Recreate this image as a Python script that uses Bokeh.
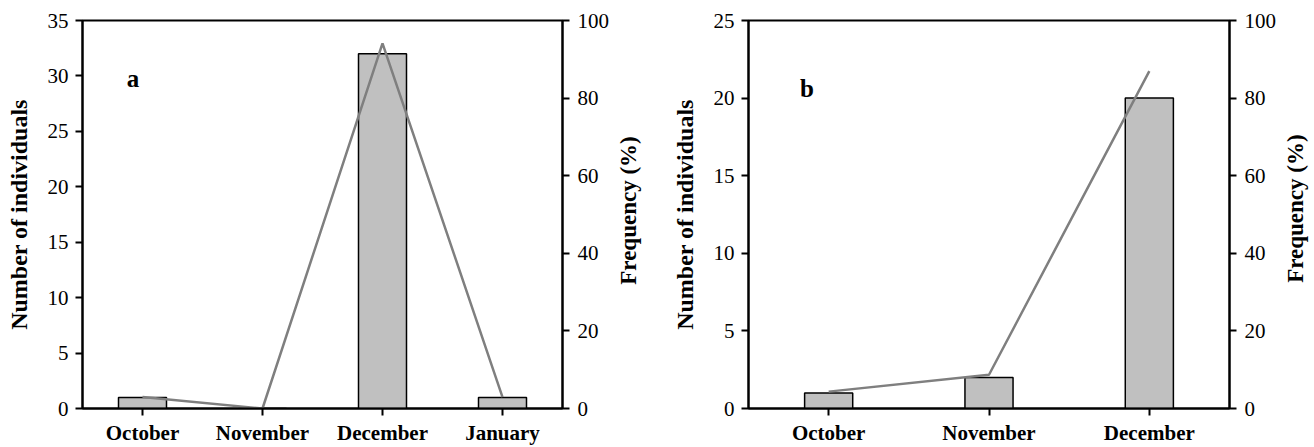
import math
from bokeh.plotting import figure
from bokeh.models import Range1d, LinearAxis, FactorRange, Label, FixedTicker
from bokeh.layouts import row
from bokeh.embed import file_html
from bokeh.resources import INLINE

# ---- data ----
months_a = ["October", "November", "December", "January"]
count_a = [1, 0, 32, 1]
freq_a = [2.94, 0.0, 94.12, 2.94]

months_b = ["October", "November", "December"]
count_b = [1, 2, 20]
freq_b = [4.35, 8.70, 86.96]

yticks_a = [0, 5, 10, 15, 20, 25, 30, 35]
yticks_b = [0, 5, 10, 15, 20, 25]
freq_ticks = [0, 20, 40, 60, 80, 100]

left_title = "Number of individuals"
right_title = "Frequency (%)"

FONT = "Liberation Serif"


def style_axis(ax, label_standoff, tick_standoff):
    ax.axis_line_color = "black"
    ax.axis_line_width = 2
    ax.major_tick_line_color = "black"
    ax.major_tick_line_width = 2
    ax.major_tick_in = 0
    ax.major_tick_out = 7
    ax.minor_tick_line_color = None
    ax.major_label_text_font = FONT
    ax.major_label_text_font_size = "21px"
    ax.major_label_text_color = "black"
    ax.major_label_standoff = tick_standoff
    ax.axis_label_text_font = FONT
    ax.axis_label_text_font_size = "24px"
    ax.axis_label_text_font_style = "bold"
    ax.axis_label_text_color = "black"
    ax.axis_label_standoff = label_standoff


def make(months, counts, freqs, ymax, yticks, bar_w, letter, lx, ly,
         fx, fy, width, bl, br):
    p = figure(x_range=FactorRange(factors=months, range_padding=0),
               y_range=Range1d(0, ymax),
               width=width, height=447,
               min_border_left=bl, min_border_right=br,
               min_border_top=20, min_border_bottom=37,
               output_backend="svg", toolbar_location=None)
    p.extra_y_ranges = {"freq": Range1d(0, 100)}
    p.grid.grid_line_color = None
    p.outline_line_color = "black"
    p.outline_line_width = 2
    p.background_fill_color = "white"
    p.border_fill_color = "white"

    p.vbar(x=months, top=counts, width=bar_w, fill_color="#c0c0c0",
           line_color="black", line_width=1.5)
    p.line(x=months, y=freqs, y_range_name="freq", line_color="#7f7f7f",
           line_width=2.5)

    # left axis
    la = p.yaxis[0]
    la.ticker = FixedTicker(ticks=yticks)
    la.axis_label = left_title
    style_axis(la, 13, 7)

    # bottom axis
    xa = p.xaxis[0]
    style_axis(xa, 0, 5)
    xa.major_label_text_font_style = "bold"

    # right axis (frequency scale)
    ra = LinearAxis(y_range_name="freq", ticker=FixedTicker(ticks=freq_ticks))
    style_axis(ra, 6, 8)
    p.add_layout(ra, "right")

    # right axis title, reading bottom-to-top
    p.add_layout(Label(x=fx, y=fy, text=right_title, angle=math.pi / 2,
                       text_font=FONT, text_font_style="bold",
                       text_font_size="23px", text_align="center",
                       text_baseline="middle", text_color="black"),
                 "right")

    # panel letter
    p.add_layout(Label(x=lx, y=ly, text=letter, text_font=FONT,
                       text_font_style="bold", text_font_size="25px",
                       text_align="center", text_baseline="alphabetic",
                       text_color="black"))
    return p


p1 = make(months_a, count_a, freq_a, 35, yticks_a, 0.4, "a", 0.42, 29.8,
          4.546, 17.86, 648, 82, 86)
p2 = make(months_b, count_b, freq_b, 25, yticks_b, 0.3, "b", 0.365, 20.6,
          3.412, 12.88, 666, 100, 85)

layout = row(p1, p2)
open("out.html", "w").write(file_html(layout, INLINE))
